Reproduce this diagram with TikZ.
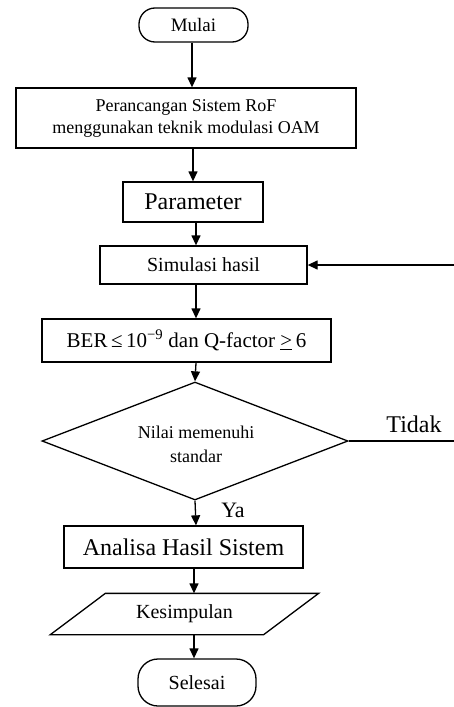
\documentclass[tikz,border=0pt]{standalone}
\usepackage{fontspec}
\setmainfont{Liberation Serif}
\usetikzlibrary{shapes.geometric,arrows.meta,calc}
\begin{document}
\begin{tikzpicture}[x=1pt,y=-1pt,
  line width=1.3pt,
  box/.style={draw,rectangle,inner sep=0pt,align=center},
  term/.style={draw,rectangle,rounded corners=16pt,inner sep=0pt},
  arr/.style={-{Triangle[length=10pt,width=9pt]}},
  fs/.style={font=\fontsize{#1}{#1}\selectfont}]
\useasboundingbox (0,0) rectangle (454,707);
% nodes
\node[term,fs=19,minimum width=109,minimum height=34] (mulai) at (193.5,25) {Mulai};
\node[box,font=\fontsize{18}{22}\selectfont,minimum width=340,minimum height=60] (per) at (186,118)
  {Perancangan Sistem RoF\\menggunakan teknik modulasi OAM};
\node[box,fs=24,minimum width=140,minimum height=40] (par) at (193,202) {Parameter};
\node[box,fs=20,minimum width=207,minimum height=38] (sim) at (203.5,265) {Simulasi hasil};
\node[box,fs=21,minimum width=289,minimum height=43] (ber) at (186.5,340.5)
  {BER\,≤\,10\textsuperscript{−9} dan Q-factor \underline{>}\,6};
\node[draw,diamond,inner sep=0pt,minimum width=306,minimum height=118] (dec) at (195,441) {};
\node[font=\fontsize{18}{24}\selectfont,align=center] (dectxt) at (196,444) {Nilai memenuhi\\standar};
\node[box,fs=24,minimum width=239,minimum height=42] (ana) at (183.5,547) {Analisa Hasil Sistem};
\node[rectangle,inner sep=0pt,fs=20,minimum width=212,minimum height=40] (kes) at (184.5,614) {Kesimpulan};
\draw ($(kes.north west)+(27.5,0)$) -- ($(kes.north east)+(27.5,0)$)
  -- ($(kes.south east)+(-27.5,0)$) -- ($(kes.south west)+(-27.5,0)$) -- cycle;
\node[term,fs=20,minimum width=118,minimum height=47,rounded corners=20pt] (sel) at (197,682.5) {Selesai};
\node[fs=24] (tidak) at (414,424) {Tidak};
\node[fs=22] (ya) at (233,510) {Ya};
% column coordinates
\coordinate (c1) at (192,0);
\coordinate (c2) at (193,0);
\coordinate (c3) at (196,0);
\coordinate (c4) at (194,0);
\coordinate (fbA) at (454,441);
\coordinate (fbB) at (454,265);
% connectors
\draw[arr] (c1 |- mulai.south) -- (c1 |- per.north);
\draw[arr] (c2 |- per.south) -- (c2 |- par.north);
\draw[arr] (c3 |- par.south) -- (c3 |- sim.north);
\draw[arr] (c3 |- sim.south) -- (c3 |- ber.north);
\draw[arr] (c3 |- ber.south) -- (dec.north);
\draw[arr] (dec.south) -- (c3 |- ana.north);
\draw[arr] (c4 |- ana.south) -- (c4 |- kes.north);
\draw[arr] (c4 |- kes.south) -- (c4 |- sel.north);
\draw (dec.east) -- (fbA);
\draw[arr] (fbB) -- (sim.east);
\end{tikzpicture}
\end{document}
